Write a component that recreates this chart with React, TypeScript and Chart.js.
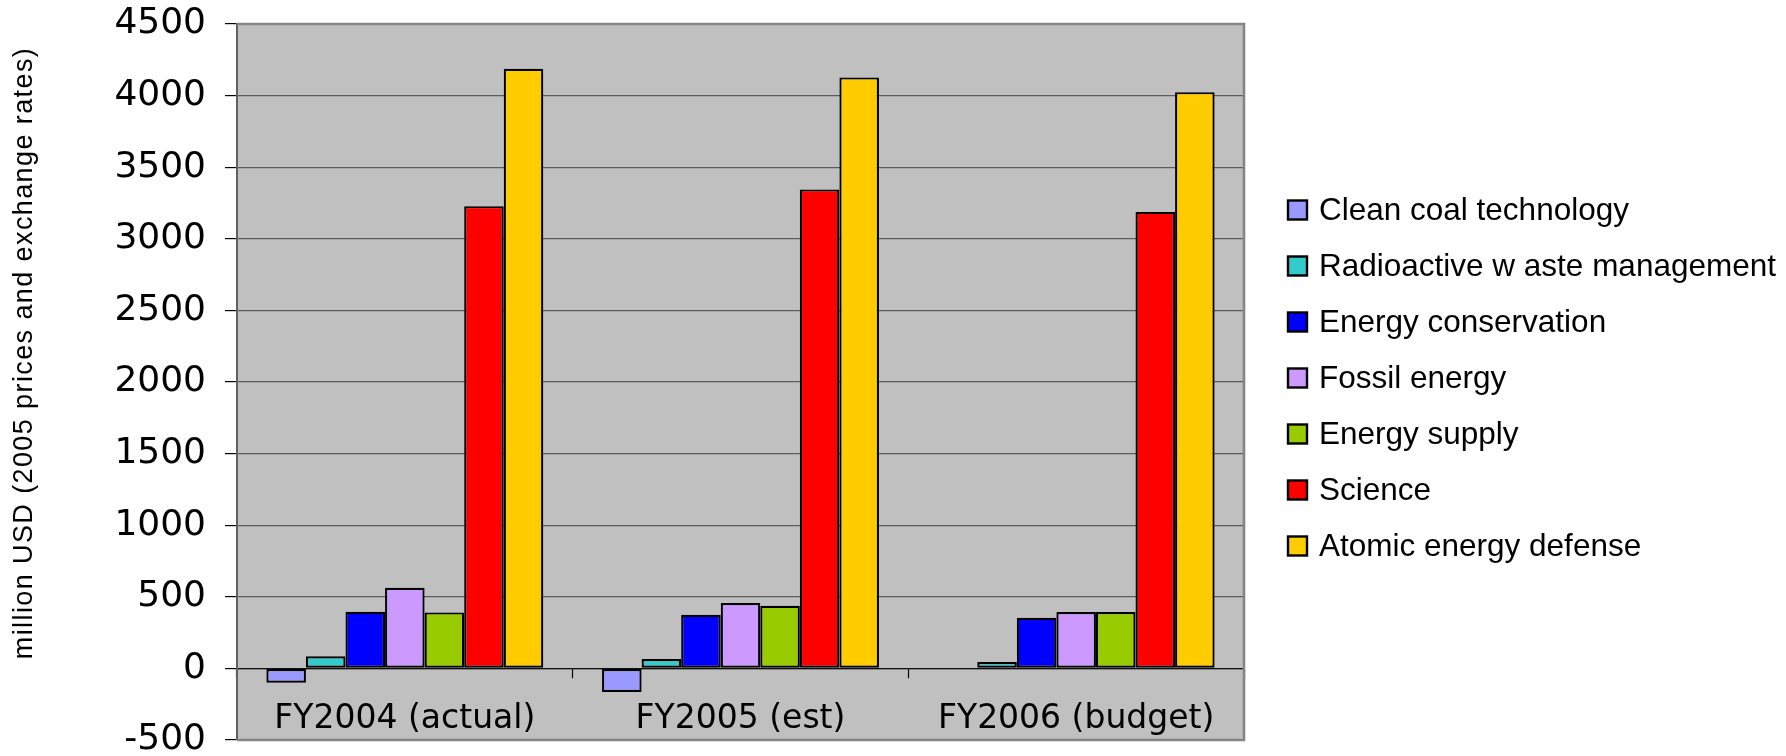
import React, { useEffect, useRef } from 'react';
import { Chart, registerables } from 'chart.js';

Chart.register(...registerables);

// Budget categories on the x axis
const categories = ['FY2004 (actual)', 'FY2005 (est)', 'FY2006 (budget)'];

// Series values, million USD (2005 prices and exchange rates)
const cleanCoal = [-100, -165, null];
const radioactiveWaste = [84, 65, 44];
const energyConservation = [395, 374, 353];
const fossilEnergy = [563, 456, 393];
const energySupply = [391, 437, 393];
const science = [3228, 3345, 3188];
const atomicDefense = [4188, 4127, 4024];

const seriesLabels = [
  'Clean coal technology',
  'Radioactive w aste management',
  'Energy conservation',
  'Fossil energy',
  'Energy supply',
  'Science',
  'Atomic energy defense',
];
const seriesValues = [
  cleanCoal,
  radioactiveWaste,
  energyConservation,
  fossilEnergy,
  energySupply,
  science,
  atomicDefense,
];
const seriesColors = ['#9999FF', '#33CCCC', '#0000FF', '#CC99FF', '#99CC00', '#FF0000', '#FFCC00'];

// Value axis range and step
const yMin = -500;
const yMax = 4500;
const yStep = 500;
const yTitle = 'million USD (2005 prices and exchange rates)';

// Room kept free on the right of the plot for the legend
const legendSpace = 542;

// Grey plot background, frame, rotated value-axis title and the legend column
const plotFrame = {
  id: 'plotFrame',
  beforeDraw(chart: any) {
    const { ctx, chartArea: a } = chart;
    ctx.save();
    ctx.fillStyle = '#C0C0C0';
    ctx.fillRect(a.left, a.top, a.right - a.left, a.bottom - a.top);
    ctx.restore();
  },
  beforeDatasetsDraw(chart: any) {
    const { ctx, chartArea: a } = chart;
    ctx.save();
    ctx.strokeStyle = '#858585';
    ctx.lineWidth = 2.6;
    ctx.beginPath();
    ctx.moveTo(a.left, a.top);
    ctx.lineTo(a.right, a.top);
    ctx.lineTo(a.right, a.bottom);
    ctx.lineTo(a.left, a.bottom);
    ctx.stroke();
    ctx.restore();
  },
  afterDraw(chart: any) {
    const { ctx, chartArea: a } = chart;
    // value-axis title
    ctx.save();
    ctx.translate(25, (a.top + a.bottom) / 2 - 29);
    ctx.rotate(-Math.PI / 2);
    ctx.font = '27px "Liberation Sans", Arial, sans-serif';
    (ctx as any).letterSpacing = '1.4px';
    ctx.fillStyle = '#000';
    ctx.textAlign = 'center';
    ctx.textBaseline = 'middle';
    ctx.fillText(yTitle, 0, 0);
    ctx.restore();

    // legend: one row per dataset
    const box = 19;
    const boxX = a.right + 44;
    const textX = a.right + 75;
    const firstY = 210;
    const step = 56;
    ctx.save();
    ctx.font = '31.5px "Liberation Sans", Arial, sans-serif';
    ctx.textAlign = 'left';
    ctx.textBaseline = 'middle';
    chart.data.datasets.forEach((ds: any, i: number) => {
      const cy = firstY + i * step;
      ctx.fillStyle = ds.backgroundColor;
      ctx.fillRect(boxX, cy - box / 2, box, box);
      ctx.strokeStyle = '#000';
      ctx.lineWidth = 2.4;
      ctx.strokeRect(boxX, cy - box / 2, box, box);
      ctx.fillStyle = '#000';
      ctx.fillText(ds.label, textX, cy + 1);
    });
    ctx.restore();
  },
};

export default function App() {
  const canvasRef = useRef<HTMLCanvasElement | null>(null);

  useEffect(() => {
    if (!canvasRef.current) return;
    const chart = new Chart(canvasRef.current, {
      type: 'bar',
      data: {
        labels: categories,
        datasets: seriesLabels.map((label, i) => ({
          label,
          data: seriesValues[i],
          backgroundColor: seriesColors[i],
          borderColor: '#000000',
          borderWidth: 2.2,
          borderSkipped: false,
          barPercentage: 1,
          categoryPercentage: 0.825,
        })),
      },
      options: {
        responsive: false,
        animation: false,
        events: [],
        layout: { padding: { top: 24, bottom: 16, left: 0, right: legendSpace } },
        plugins: {
          tooltip: { enabled: false },
          legend: { display: false },
        },
        scales: {
          x: {
            position: { y: 0 } as any,
            offset: true,
            grid: {
              display: true,
              offset: true,
              drawOnChartArea: false,
              drawTicks: true,
              tickLength: 9,
              tickColor: '#000',
              tickWidth: 1.2,
            },
            border: { display: true, color: '#111', width: 1.2 },
            ticks: {
              color: '#000',
              padding: 22,
              maxRotation: 0,
              autoSkip: false,
              font: { family: '"DejaVu Sans", Verdana, sans-serif', size: 33 },
            },
          },
          y: {
            position: 'left',
            min: yMin,
            max: yMax,
            grid: {
              color: '#5c5c5c',
              lineWidth: 1.2,
              drawTicks: true,
              tickLength: 12,
              tickColor: '#000',
              tickWidth: 1.2,
            },
            border: { display: true, color: '#606060', width: 2 },
            ticks: {
              stepSize: yStep,
              color: '#000',
              padding: 19,
              font: { family: '"DejaVu Sans", Verdana, sans-serif', size: 36, lineHeight: 1 },
              callback: (v: any) => String(v),
            },
            afterFit: (s: any) => {
              s.width = 237;
              s.paddingTop = 0;
              s.paddingBottom = 0;
            },
          },
        },
      } as any,
      plugins: [plotFrame],
    });
    return () => chart.destroy();
  }, []);

  return (
    <div style={{ position: 'absolute', left: 0, top: 0, width: 1786, height: 756, background: '#fff' }}>
      <canvas ref={canvasRef} width={1786} height={756} style={{ display: 'block' }} />
    </div>
  );
}
